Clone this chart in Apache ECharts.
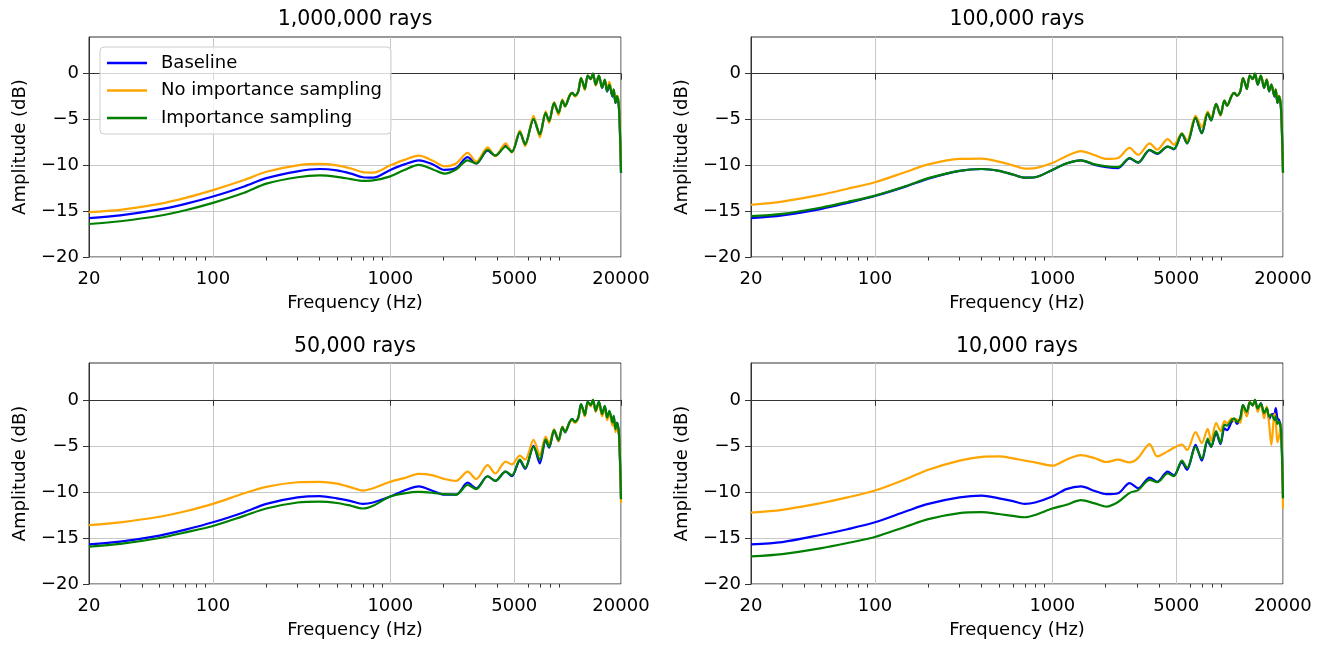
<!DOCTYPE html>
<html><head><meta charset="utf-8">
<script src="https://cdn.jsdelivr.net/npm/echarts@6/dist/echarts.min.js"></script>
<style>html,body{margin:0;padding:0;background:#fff}#c{width:1327px;height:645px}</style>
</head><body><div id="c"></div>
<script>
// ---------- DATA ----------
const freqs = [20, 30, 50, 70, 100, 150, 200, 300, 400, 500, 600, 700, 800, 1000, 1200, 1450, 1740, 2020, 2350, 2730, 3050, 3540, 3910, 4470, 4850, 5380, 5760, 6425, 6970, 7520, 7865, 8390, 8885, 9345, 9670, 10270, 10620, 11000, 11480, 11900, 12280, 12500, 12990, 13500, 13900, 14400, 15010, 15650, 16200, 16700, 17200, 17900, 18200, 18600, 19000, 19500, 20000];

const titles = ['1,000,000 rays', '100,000 rays', '50,000 rays', '10,000 rays'];
const seriesNames = ['Baseline', 'No importance sampling', 'Importance sampling'];
const xTickValues = [20, 100, 1000, 5000, 20000];
const xMinorTickValues = [30, 40, 50, 60, 70, 80, 90, 200, 300, 400, 500, 600, 700, 800, 900, 2000, 3000, 4000, 6000, 7000, 8000, 9000];
const yTickValues = [-20, -15, -10, -5, 0];

// Panel 1: 1,000,000 rays
const p1Baseline = [-15.75, -15.45, -14.8, -14.2, -13.4, -12.3, -11.4, -10.65, -10.4, -10.55, -10.9, -11.3, -11.35, -10.5, -9.9, -9.45, -9.9, -10.5, -10.3, -9.1, -9.8, -8.4, -8.95,
  -7.85, -8.5, -6.4, -7.7, -4.95, -6.6, -4.3, -5.2, -3.2, -4.3, -2.9, -3.55, -2.4, -2.1, -2.4, -1.95, -0.5, -1.2, -1.7, -0.2, -0.6, 0, -1.2, -0.25, -1.55, -0.7, -1.95, -1.2, -2.5, -1.75, -3.2, -2.5, -3.9, -10.8];
const p1NoIS = [-15.1, -14.85, -14.2, -13.55, -12.7, -11.6, -10.7, -10.0, -9.85, -10.0, -10.35, -10.75, -10.8, -10.0, -9.4, -8.95, -9.5, -10.1, -9.8, -8.65, -9.6, -8.05, -9.0,
  -7.6, -8.6, -6.2, -7.9, -4.6, -6.95, -4.1, -5.4, -3.1, -4.5, -2.8, -3.6, -2.3, -2.1, -2.5, -1.9, -0.45, -1.3, -1.8, -0.2, -0.6, 0, -1.3, -0.2, -1.5, -0.7, -1.7, -0.9, -2.3, -1.8, -3.0, -2.4, -3.6, -10.5];
const p1IS = [-16.4, -16.1, -15.5, -14.9, -14.1, -13.0, -12.0, -11.3, -11.1, -11.25, -11.5, -11.7, -11.65, -11.2, -10.5, -9.95, -10.45, -10.9, -10.45, -9.45, -9.8, -8.3, -8.95,
  -7.97, -8.55, -6.38, -7.72, -4.93, -6.63, -4.28, -5.18, -3.19, -4.28, -2.9, -3.55, -2.39, -2.1, -2.4, -1.92, -0.47, -1.2, -1.67, -0.2, -0.58, 0, -1.2, -0.2, -1.55, -0.65, -1.92, -1.2, -2.46, -1.74, -3.19, -2.46, -3.9, -10.8];

// Panel 2: 100,000 rays
const p2Baseline = [-15.75, -15.45, -14.75, -14.1, -13.35, -12.3, -11.45, -10.6, -10.4, -10.6, -11.0, -11.35, -11.3, -10.5, -9.8, -9.45, -9.95, -10.2, -10.3, -9.25, -9.7, -8.35, -8.75,
  -7.95, -8.25, -6.6, -7.6, -4.85, -6.5, -4.3, -5.1, -3.3, -4.5, -2.95, -3.5, -2.4, -2.1, -2.4, -1.95, -0.5, -1.2, -1.7, -0.2, -0.6, 0, -1.2, -0.25, -1.55, -0.7, -1.95, -1.2, -2.5, -1.75, -3.2, -2.5, -3.9, -10.8];
const p2NoIS = [-14.3, -13.95, -13.2, -12.55, -11.85, -10.7, -9.9, -9.3, -9.27, -9.6, -10.0, -10.35, -10.3, -9.75, -9.0, -8.45, -8.9, -9.3, -9.2, -8.1, -8.85, -7.6, -8.3,
  -7.15, -7.75, -6.5, -7.3, -4.6, -5.8, -4.15, -4.8, -3.3, -4.6, -2.9, -3.5, -2.35, -2.1, -2.4, -1.9, -0.45, -1.2, -1.65, -0.2, -0.6, 0, -1.15, -0.2, -1.5, -0.6, -1.9, -1.2, -2.4, -1.7, -3.1, -2.4, -3.8, -10.8];
const p2IS = [-15.55, -15.3, -14.6, -14.0, -13.3, -12.25, -11.4, -10.6, -10.4, -10.6, -11.0, -11.35, -11.3, -10.5, -9.8, -9.45, -9.9, -10.1, -10.2, -9.2, -9.7, -8.3, -8.7,
  -7.95, -8.2, -6.55, -7.6, -4.8, -6.5, -4.3, -5.1, -3.3, -4.5, -2.95, -3.5, -2.4, -2.1, -2.4, -1.92, -0.47, -1.2, -1.67, -0.2, -0.58, 0, -1.2, -0.2, -1.55, -0.65, -1.92, -1.2, -2.46, -1.74, -3.19, -2.46, -3.9, -10.8];

// Panel 3: 50,000 rays
const p3Baseline = [-15.7, -15.4, -14.75, -14.1, -13.3, -12.2, -11.3, -10.6, -10.45, -10.7, -11.0, -11.3, -11.15, -10.5, -9.85, -9.4, -9.9, -10.3, -10.3, -9.0, -9.6, -8.3, -8.8,
  -7.8, -8.3, -6.6, -7.5, -5.0, -6.9, -4.4, -5.2, -3.3, -4.5, -2.95, -3.55, -2.4, -2.1, -2.4, -1.95, -0.5, -1.2, -1.7, -0.25, -0.6, 0, -1.2, -0.25, -1.6, -0.7, -2.0, -1.3, -2.5, -1.8, -3.2, -2.5, -3.9, -10.8];
const p3NoIS = [-13.6, -13.3, -12.7, -12.1, -11.3, -10.15, -9.45, -8.95, -8.9, -9.1, -9.5, -9.85, -9.6, -8.9, -8.5, -8.05, -8.2, -8.6, -8.8, -7.8, -8.6, -7.1, -8.0,
  -6.7, -7.0, -6.05, -6.5, -4.35, -6.0, -4.0, -4.7, -3.2, -4.5, -2.9, -3.5, -2.4, -2.2, -2.5, -2.0, -0.6, -1.3, -1.8, -0.3, -0.7, 0, -1.3, -0.4, -1.8, -0.9, -2.2, -1.5, -2.8, -2.0, -3.5, -3.0, -3.8, -11.2];
const p3IS = [-15.95, -15.65, -15.0, -14.4, -13.7, -12.6, -11.8, -11.15, -11.05, -11.2, -11.5, -11.8, -11.5, -10.5, -10.15, -10.0, -10.1, -10.25, -10.3, -9.25, -9.7, -8.3, -8.8,
  -7.8, -8.2, -6.5, -7.4, -5.1, -6.5, -4.3, -5.1, -3.3, -4.4, -2.95, -3.5, -2.4, -2.1, -2.4, -1.92, -0.47, -1.2, -1.67, -0.2, -0.58, 0, -1.2, -0.2, -1.55, -0.65, -1.92, -1.2, -2.46, -1.74, -3.19, -2.46, -3.9, -10.8];

// Panel 4: 10,000 rays
const p4Baseline = [-15.7, -15.45, -14.65, -14.05, -13.3, -12.1, -11.3, -10.6, -10.4, -10.7, -11.0, -11.3, -11.15, -10.5, -9.7, -9.4, -9.9, -10.25, -10.15, -9.05, -9.6, -8.45, -8.9,
  -7.8, -8.2, -6.8, -7.6, -4.9, -6.6, -4.45, -5.1, -3.6, -4.8, -3.1, -3.3, -2.4, -2.2, -2.6, -2.0, -0.6, -1.3, -1.7, -0.3, -0.6, 0, -1.1, -0.35, -1.6, -0.9, -2.1, -1.6, -1.5, -0.9, -2.0, -2.2, -3.0, -10.7];
const p4NoIS = [-12.25, -11.95, -11.2, -10.6, -9.85, -8.6, -7.6, -6.6, -6.2, -6.15, -6.35, -6.6, -6.8, -7.15, -6.5, -6.0, -6.35, -6.75, -6.5, -6.8, -6.3, -4.8, -6.15,
  -5.6, -5.2, -4.85, -5.45, -3.5, -4.7, -3.15, -4.45, -2.5, -3.4, -2.3, -2.55, -2.0, -2.3, -2.1, -2.5, -0.9, -1.4, -1.8, -0.2, -0.6, 0, -1.3, -0.4, -2.0, -0.7, -2.6, -4.9, -1.5, -2.2, -4.6, -4.0, -2.7, -11.8];
const p4IS = [-17.0, -16.75, -16.1, -15.55, -14.9, -13.75, -12.95, -12.3, -12.2, -12.4, -12.6, -12.75, -12.5, -11.8, -11.4, -10.9, -11.25, -11.6, -11.1, -10.1, -9.8, -8.7, -8.95,
  -8.0, -8.3, -6.6, -7.4, -5.1, -6.4, -4.2, -5.1, -3.4, -4.7, -2.7, -2.8, -2.2, -2.0, -2.4, -2.0, -0.55, -1.1, -1.3, -0.25, -0.6, 0, -0.95, -0.4, -1.45, -0.9, -1.8, -1.6, -2.2, -1.8, -2.6, -2.4, -3.5, -10.7];

const panels = [
  [p1Baseline, p1NoIS, p1IS],
  [p2Baseline, p2NoIS, p2IS],
  [p3Baseline, p3NoIS, p3IS],
  [p4Baseline, p4NoIS, p4IS]
];

// ---------- CHART ----------
const FONT = 'DejaVu Sans';
const colors = ['#0000ff', '#ffa500', '#008000'];
const layouts = [
  { left: 89, top: 37, width: 532, height: 220 },
  { left: 751, top: 37, width: 532, height: 220 },
  { left: 89, top: 363, width: 532, height: 221 },
  { left: 751, top: 363, width: 532, height: 221 }
];
const titleTops = [9, 336];

const grid = [], xAxis = [], yAxis = [], series = [], title = [];
const minus = v => (v < 0 ? '\u2212' + Math.abs(v) : String(v));

layouts.forEach((L, g) => {
  grid.push({ left: L.left, top: L.top, width: L.width, height: L.height,
    show: true, borderColor: '#333', borderWidth: 1, backgroundColor: 'transparent' });
  title.push({ text: titles[g], left: L.left + L.width / 2, textAlign: 'center',
    top: titleTops[g < 2 ? 0 : 1], padding: 0,
    textStyle: { fontFamily: FONT, fontSize: 20.5, fontWeight: 'normal', color: '#000' } });
  xAxis.push({
    type: 'log', logBase: 10, gridIndex: g, min: 20, max: 20000, position: 'bottom',
    name: 'Frequency (Hz)', nameLocation: 'middle', nameGap: 37,
    nameTextStyle: { fontFamily: FONT, fontSize: 18, color: '#000' },
    axisLine: { show: true, lineStyle: { color: '#333', width: 1 } },
    axisTick: { show: true, length: 6, customValues: xTickValues, lineStyle: { color: '#333', width: 1 } },
    axisLabel: { show: true, customValues: xTickValues, fontFamily: FONT, fontSize: 18, color: '#000', margin: 13,
      formatter: v => String(Math.round(v)) },
    splitLine: { show: true, lineStyle: { color: '#c8c8c8', width: 1 } }
  });
  xAxis.push({
    type: 'log', logBase: 10, gridIndex: g, min: 20, max: 20000, position: 'bottom',
    axisLine: { show: false },
    axisTick: { show: true, length: 3.5, customValues: xMinorTickValues, lineStyle: { color: '#333', width: 1 } },
    axisLabel: { show: false },
    splitLine: { show: false }
  });
  yAxis.push({
    type: 'value', gridIndex: g, min: -20, max: 4,
    name: 'Amplitude (dB)', nameLocation: 'middle', nameGap: 60, nameRotate: 90,
    nameTextStyle: { fontFamily: FONT, fontSize: 18, color: '#000' },
    axisLine: { show: true, lineStyle: { color: '#333', width: 1 } },
    axisTick: { show: true, length: 6, customValues: yTickValues, lineStyle: { color: '#333', width: 1 } },
    axisLabel: { show: true, customValues: yTickValues, fontFamily: FONT, fontSize: 18, color: '#000', margin: 10,
      formatter: minus },
    splitLine: { show: true, lineStyle: { color: '#c8c8c8', width: 1 } }
  });
  panels[g].forEach((vals, s) => {
    series.push({
      name: seriesNames[s], type: 'line', xAxisIndex: 2 * g, yAxisIndex: g,
      data: freqs.map((f, i) => [f, vals[i]]),
      symbol: 'none', smooth: 0.3,
      lineStyle: { color: colors[s], width: 2.2 }, itemStyle: { color: colors[s] },
      z: 2 + s, animation: false
    });
  });
});

const chart = echarts.init(document.getElementById('c'), null, { renderer: 'canvas' });
chart.setOption({
  animation: false,
  backgroundColor: '#fff',
  title, grid, xAxis, yAxis, series,
  legend: {
    data: seriesNames, left: 100, top: 47, orient: 'vertical',
    icon: 'rect', itemWidth: 40, itemHeight: 2.5, itemGap: 9.5,
    padding: [7, 9, 7, 7],
    borderColor: '#cccccc', borderWidth: 1, borderRadius: 4,
    backgroundColor: 'rgba(255,255,255,0.8)',
    textStyle: { fontFamily: FONT, fontSize: 18, color: '#000', padding: [0, 0, 0, 9] }
  }
});
</script>
</body></html>
